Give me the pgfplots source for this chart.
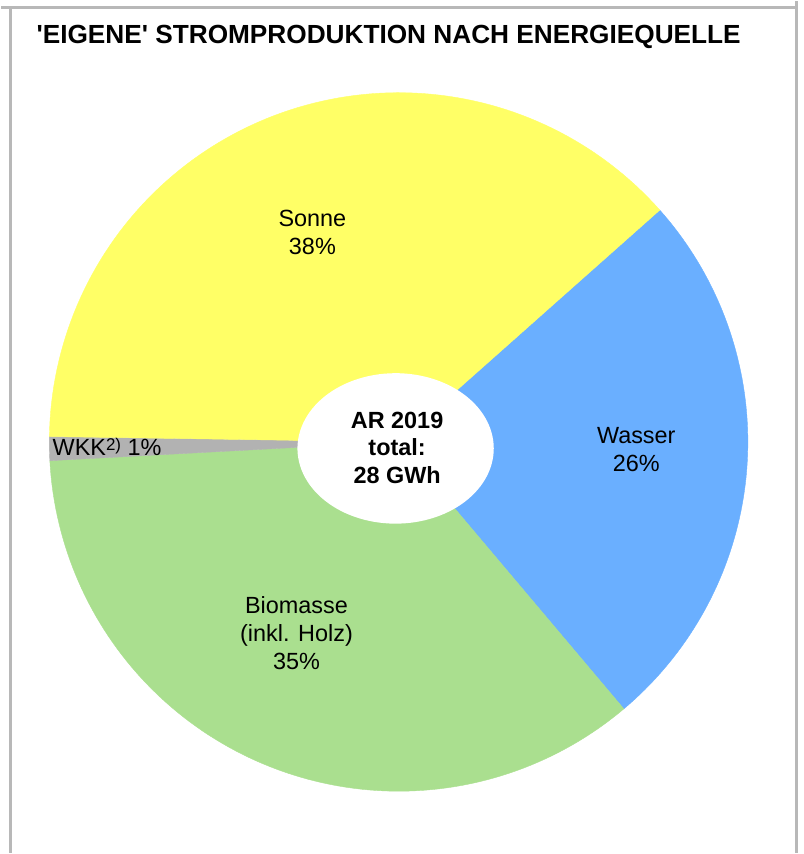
\documentclass[border=0pt]{standalone}
\usepackage{pgfplots}
\pgfplotsset{compat=1.18}
\usepackage{pgfplotstable}
\usepackage{fontspec}
\setmainfont{Liberation Sans}
\definecolor{sonne}{HTML}{FFFF66}
\definecolor{wasser}{HTML}{6AAFFF}
\definecolor{bio}{HTML}{AADF8F}
\definecolor{wkk}{HTML}{B2B2B2}
\definecolor{framegray}{HTML}{B8B8B8}

\pgfplotstableread{
name value
Wasser 25.4
Biomasse 35.3
WKK 1.1
Sonne 38.2
}\piedata

\pgfplotstablegetelem{0}{value}\of\piedata \let\vW\pgfplotsretval
\pgfplotstablegetelem{1}{value}\of\piedata \let\vB\pgfplotsretval
\pgfplotstablegetelem{2}{value}\of\piedata \let\vK\pgfplotsretval
\pgfplotstablegetelem{3}{value}\of\piedata \let\vS\pgfplotsretval

\pgfmathsetmacro\aA{41.6}
\pgfmathsetmacro\aB{\aA-3.6*\vW}
\pgfmathsetmacro\aC{\aB-3.6*\vB}
\pgfmathsetmacro\aD{\aC-3.6*\vK}
\pgfmathsetmacro\aE{\aD-3.6*\vS}
\def\cx{398.5}
\def\cy{412}
\def\R{350.5}

\begin{document}
\begin{tikzpicture}
\begin{axis}[scale only axis, width=402.5pt, height=427pt,
  xmin=0, xmax=805, ymin=0, ymax=854, hide axis, clip=false]
% frame
\addplot[draw=none, mark=none] coordinates {(0,0) (805,854)};
\addplot[framegray, line width=1.5pt, mark=none] coordinates {(0,848) (798,848)};
\addplot[framegray, line width=1.5pt, mark=none] coordinates {(9,0) (9,848)};
\addplot[framegray, line width=1.5pt, mark=none] coordinates {(798,0) (798,854)};
% slices
\addplot[fill=wasser, draw=wasser, line width=0.2pt, domain=\aB:\aA, samples=80, variable=\t]
  ({\cx+\R*cos(\t)},{\cy+\R*sin(\t)}) -- (axis cs:\cx,\cy) -- cycle;
\addplot[fill=bio, draw=bio, line width=0.2pt, domain=\aC:\aB, samples=100, variable=\t]
  ({\cx+\R*cos(\t)},{\cy+\R*sin(\t)}) -- (axis cs:\cx,\cy) -- cycle;
\addplot[fill=wkk, draw=wkk, line width=0.2pt, domain=\aD:\aC, samples=10, variable=\t]
  ({\cx+\R*cos(\t)},{\cy+\R*sin(\t)}) -- (axis cs:\cx,\cy) -- cycle;
\addplot[fill=sonne, draw=sonne, line width=0.2pt, domain=\aE:\aD, samples=100, variable=\t]
  ({\cx+\R*cos(\t)},{\cy+\R*sin(\t)}) -- (axis cs:\cx,\cy) -- cycle;
% hole
\addplot[fill=white, draw=none, domain=0:360, samples=120, variable=\t]
  ({395.5+98.5*cos(\t)},{405.5+75.5*sin(\t)}) -- cycle;
% texts
\node[font=\bfseries\fontsize{13.15}{15}\selectfont] at (axis cs:388.5,818) {\textquotesingle EIGENE\textquotesingle\ STROMPRODUKTION NACH ENERGIEQUELLE};
\node[align=center, font=\fontsize{11.75}{14}\selectfont] at (axis cs:312,622) {Sonne\\38\%};
\node[align=center, font=\fontsize{11.75}{14}\selectfont] at (axis cs:637,404) {Wasser\\26\%};
\node[align=center, font=\fontsize{11.75}{14}\selectfont] at (axis cs:296,220) {Biomasse\\(inkl. Holz)\\35\%};
\node[anchor=west, inner sep=0pt, font=\fontsize{11.75}{14}\selectfont] at (axis cs:51,407) {WKK\raisebox{0.35ex}{\fontsize{8.5}{10}\selectfont 2)} 1\%};
\node[align=center, font=\bfseries\fontsize{11.75}{14}\selectfont] at (axis cs:397,406) {AR 2019\\total:\\28 GWh};
\end{axis}
\end{tikzpicture}
\end{document}
